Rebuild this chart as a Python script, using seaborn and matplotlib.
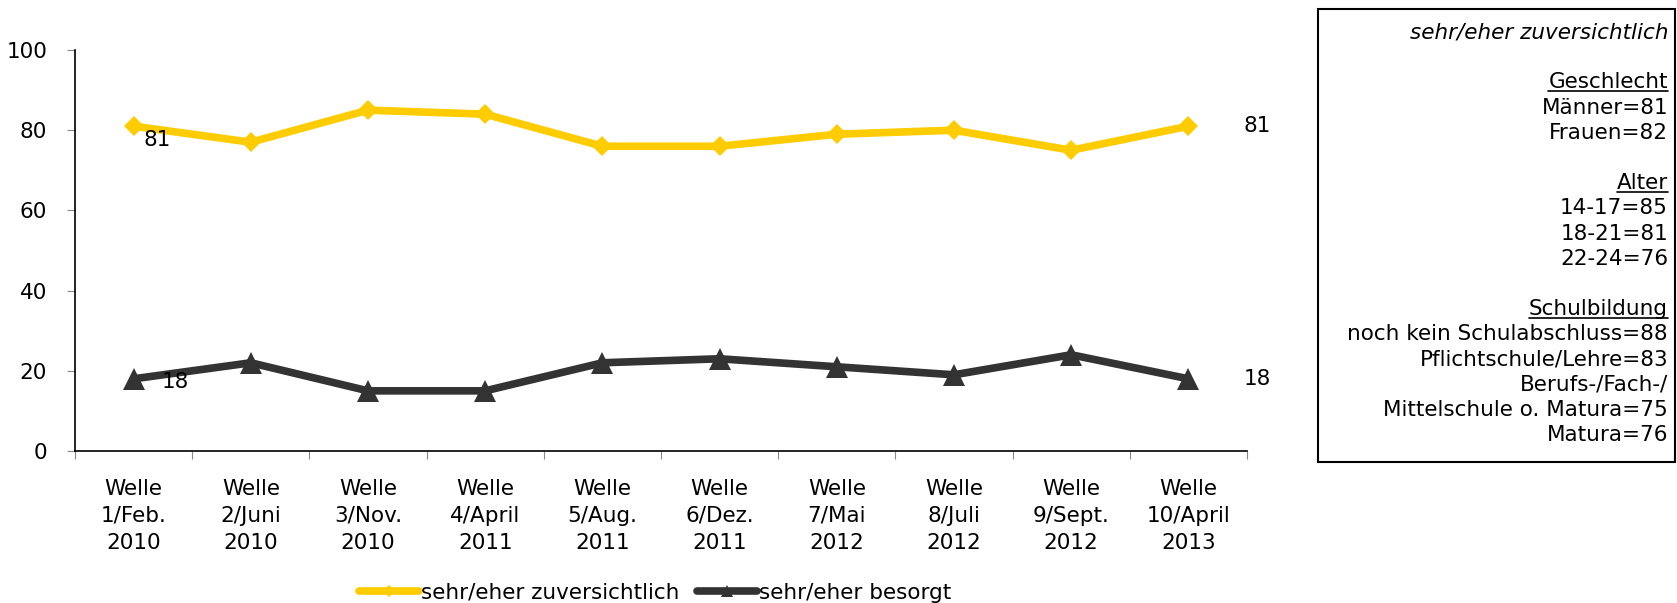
import numpy as np
import pandas as pd
import matplotlib
matplotlib.use("Agg")
import matplotlib.pyplot as plt
import seaborn as sns
from matplotlib.lines import Line2D
from matplotlib.patches import Rectangle

# ---------------- data ----------------
categories = ["Welle\n1/Feb.\n2010", "Welle\n2/Juni\n2010", "Welle\n3/Nov.\n2010",
              "Welle\n4/April\n2011", "Welle\n5/Aug.\n2011", "Welle\n6/Dez.\n2011",
              "Welle\n7/Mai\n2012", "Welle\n8/Juli\n2012", "Welle\n9/Sept.\n2012",
              "Welle\n10/April\n2013"]
zuversichtlich = [81, 77, 85, 84, 76, 76, 79, 80, 75, 81]
besorgt = [18, 22, 15, 15, 22, 23, 21, 19, 24, 18]
series_names = ["sehr/eher zuversichtlich", "sehr/eher besorgt"]
y_ticks = [0, 20, 40, 60, 80, 100]

box_title = "sehr/eher zuversichtlich"
box_lines = ["", "", "Geschlecht", "Männer=81", "Frauen=82", "",
             "Alter", "14-17=85", "18-21=81", "22-24=76", "",
             "Schulbildung", "noch kein Schulabschluss=88", "Pflichtschule/Lehre=83",
             "Berufs-/Fach-/", "Mittelschule o. Matura=75", "Matura=76"]
box_headers = ["Geschlecht", "Alter", "Schulbildung"]

# ---------------- style ----------------
sns.set_theme(style="white")
plt.rcParams["font.family"] = ["DejaVu Sans"]
plt.rcParams["text.color"] = "black"
FS = 15.5
W, H = 1677, 603
fig = plt.figure(figsize=(W / 100, H / 100), dpi=100)
ax = fig.add_axes([75 / W, 1 - 451 / H, (1247 - 75) / W, (451 - 50) / H])

df = pd.DataFrame({
    "x": list(range(len(categories))) * 2,
    "value": zuversichtlich + besorgt,
    "series": [series_names[0]] * len(categories) + [series_names[1]] * len(categories),
})

yellow = "#FFCC00"
dark = "#333333"
sns.lineplot(data=df[df.series == series_names[0]], x="x", y="value", color=yellow,
             marker="D", markersize=10.5, markeredgewidth=0, linewidth=5.5,
             label=series_names[0], ax=ax)
sns.lineplot(data=df[df.series == series_names[1]], x="x", y="value", color=dark,
             marker="^", markersize=15.5, markeredgewidth=0, linewidth=5.5,
             label=series_names[1], ax=ax)

# data labels on first and last point
ax.annotate(str(zuversichtlich[0]), (0, zuversichtlich[0]), xytext=(7, -10),
            textcoords="offset points", ha="left", va="center", fontsize=FS, color="black")
ax.annotate(str(besorgt[0]), (0, besorgt[0]), xytext=(20, -2),
            textcoords="offset points", ha="left", va="center", fontsize=FS, color="black")
n = len(categories) - 1
ax.annotate(str(zuversichtlich[n]), (n, zuversichtlich[n]), xytext=(40, 0),
            textcoords="offset points", ha="left", va="center", fontsize=FS, color="black")
ax.annotate(str(besorgt[n]), (n, besorgt[n]), xytext=(40, 0),
            textcoords="offset points", ha="left", va="center", fontsize=FS, color="black")

ax.set_xlim(-0.5, len(categories) - 0.5)
ax.set_ylim(0, 100)
ax.set_yticks(y_ticks)
ax.set_yticklabels([str(v) for v in y_ticks], fontsize=FS)
ax.set_xticks(range(len(categories)))
ax.set_xticklabels(categories, fontsize=FS, linespacing=1.45)
ax.set_xticks(np.arange(-0.5, len(categories), 1.0), minor=True)
ax.tick_params(axis="x", which="major", length=0, pad=20, labelcolor="black")
ax.tick_params(axis="x", which="minor", length=6, width=0.8, color="#888888", direction="out", bottom=True)
ax.tick_params(axis="y", which="major", length=6, width=0.8, color="#888888", direction="out",
               left=True, pad=14, labelcolor="black")
ax.set_xlabel("")
ax.set_ylabel("")
for s in ["top", "right"]:
    ax.spines[s].set_visible(False)
for s in ["left", "bottom"]:
    ax.spines[s].set_color("black")
    ax.spines[s].set_linewidth(1.2)
ax.grid(False)

leg = ax.legend(loc="center", bbox_to_anchor=(655 / W, 1 - 593 / H), bbox_transform=fig.transFigure,
                ncol=2, frameon=False, fontsize=FS, handlelength=2.8, handletextpad=0.1,
                columnspacing=0.8, markerscale=0.55, labelcolor="black")

# ---------------- text box ----------------
box = Rectangle((1318 / W, 1 - 462 / H), (1675 - 1318) / W, (462 - 9) / H,
                transform=fig.transFigure, fill=False, edgecolor="black", linewidth=1.5)
fig.add_artist(box)

xr = 1668 / W
step = 25.2
fig.text(xr, 1 - (32) / H, box_title, ha="right", va="center", fontsize=FS,
         style="italic", color="black")
header_texts = []
for i, line in enumerate(box_lines):
    if not line:
        continue
    t = fig.text(xr, 1 - (32 + step * i) / H, line, ha="right", va="center",
                 fontsize=FS, color="black")
    if line in box_headers:
        header_texts.append(t)

fig.canvas.draw()
renderer = fig.canvas.get_renderer()
inv = fig.transFigure.inverted()
for t in header_texts:
    bb = t.get_window_extent(renderer)
    yb = bb.y0 + 1
    (x0, y0), (x1, _) = inv.transform([(bb.x0, yb), (bb.x1, yb)])
    fig.add_artist(Line2D([x0, x1], [y0, y0], transform=fig.transFigure, color="black", linewidth=1.2))

fig.savefig("out.png", dpi=100)
